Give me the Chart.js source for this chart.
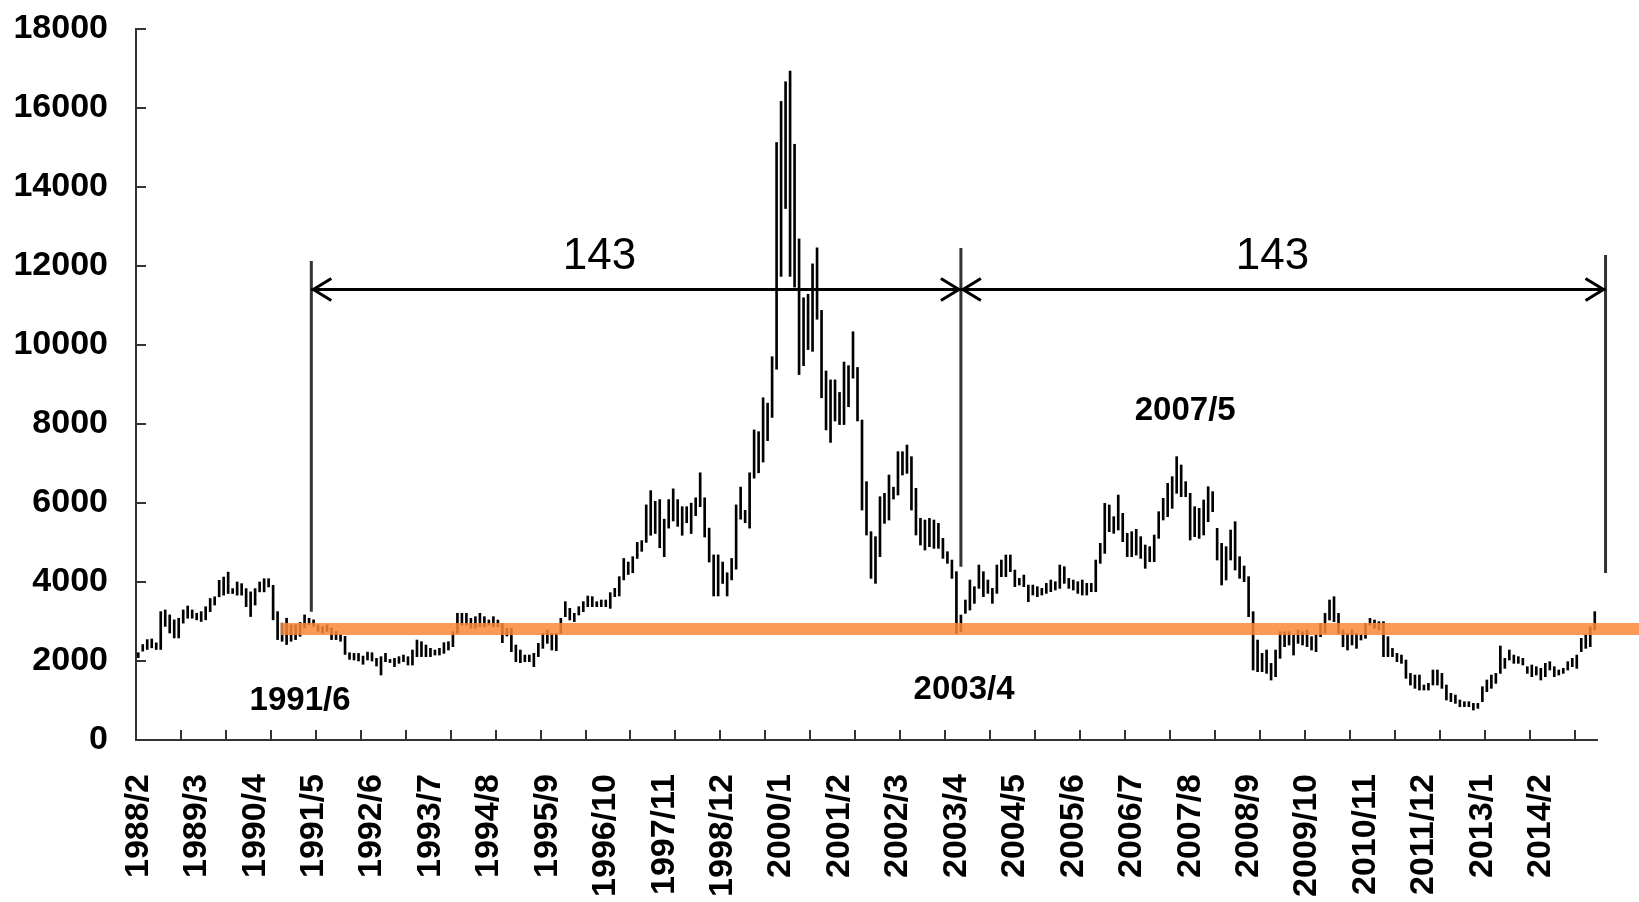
<!DOCTYPE html>
<html>
<head>
<meta charset="utf-8">
<script src="https://cdn.jsdelivr.net/npm/chart.js@4/dist/chart.umd.min.js"></script>
<style>
  html, body { margin: 0; padding: 0; background: #fff; overflow: hidden; }
  canvas { display: block; }
</style>
</head>
<body>
<canvas id="chart" width="1639" height="902"></canvas>
<script>
// monthly high / low, starting 1988/2
var highs = [
  2210, 2417, 2542, 2558, 2459, 3250, 3292, 3167, 3042, 3083,
  3292, 3392, 3292, 3208, 3250, 3375, 3583, 3625, 4042, 4125,
  4250, 3833, 4000, 3958, 3833, 3750, 3833, 4000, 4083, 4083,
  3917, 3250, 2959, 3083, 2917, 2917, 2975, 3167, 3083, 3042,
  2917, 2875, 2917, 2834, 2750, 2667, 2625, 2209, 2192, 2192,
  2125, 2225, 2209, 2067, 2109, 2194, 2040, 2067, 2109, 2151,
  2109, 2278, 2531, 2489, 2405, 2320, 2278, 2320, 2464, 2489,
  2742, 3207, 3207, 3207, 3080, 3122, 3207, 3122, 3038, 3122,
  3038, 2953, 2827, 2827, 2405, 2278, 2151, 2151, 2194, 2447,
  2700, 2785, 2700, 2700, 3080, 3502, 3333, 3207, 3376, 3502,
  3646, 3629, 3502, 3544, 3544, 3730, 3840, 4135, 4596, 4505,
  4641, 5003, 5048, 5952, 6313, 6042, 6087, 5590, 6087, 6358,
  6087, 5906, 5906, 5997, 6132, 6765, 6132, 5364, 4686, 4686,
  4505, 4234, 4596, 5952, 6403, 5816, 6765, 7850, 7805, 8664,
  8528, 9703, 15127, 16167, 16664, 16935, 15082, 12686, 11195, 11285,
  12054, 12460, 10878, 9342, 9116, 9116, 8799, 9568, 9477, 10336,
  9432, 8101, 6540, 5274, 5147, 6160, 6244, 6709, 6400, 7299,
  7299, 7468, 7173, 6371, 5611, 5569, 5611, 5569, 5485, 5105,
  4767, 4556, 4261, 3164, 3544, 4050, 3881, 4430, 4261, 4050,
  3839, 4430, 4556, 4683, 4683, 4303, 4092, 4176, 3923, 3923,
  3881, 3839, 3965, 4050, 4008, 4430, 4388, 4092, 4050, 4008,
  4050, 3965, 3965, 4556, 4978, 5991, 5949, 5654, 6202, 5738,
  5232, 5274, 5333, 5148, 4936, 4894, 5190, 5780, 6118, 6498,
  6667, 7173, 6962, 6540, 6245, 5907, 5865, 6076, 6413, 6287,
  5359, 4979, 4894, 5316, 5527, 4641, 4405, 4135, 3248, 2531,
  2193, 2278, 1940, 2278, 2742, 2742, 2742, 2658, 2784, 2742,
  2784, 2616, 2658, 2953, 3206, 3544, 3628, 3206, 2784, 2700,
  2785, 2700, 2658, 2953, 3080, 3038, 2996, 2996, 2616, 2320,
  2194, 2151, 2025, 1687, 1645, 1645, 1392, 1434, 1772, 1772,
  1687, 1392, 1181, 1139, 1012, 970, 970, 928, 928, 1350,
  1519, 1645, 1687, 2380, 2067, 2278, 2151, 2110, 2067, 1856,
  1899, 1856, 1814, 1941, 1983, 1856, 1772, 1814, 1983, 2067,
  2151, 2574, 2658, 2869, 3249
];
var lows = [
  2085, 2250, 2292, 2334, 2292, 2292, 2875, 2709, 2584, 2584,
  2959, 3083, 3083, 3042, 3000, 3042, 3250, 3417, 3625, 3667,
  3708, 3708, 3667, 3667, 3375, 3125, 3417, 3750, 3750, 3875,
  3042, 2542, 2500, 2417, 2500, 2542, 2625, 2834, 2917, 2875,
  2750, 2709, 2750, 2542, 2542, 2500, 2167, 2042, 2025, 2000,
  1917, 2025, 2000, 1873, 1645, 1983, 1960, 1856, 1941, 1983,
  1898, 1898, 2109, 2109, 2109, 2109, 2151, 2151, 2194, 2278,
  2363, 2700, 2911, 2911, 2827, 2827, 2869, 2869, 2911, 2869,
  2869, 2464, 2633, 2236, 1983, 1957, 1983, 1983, 1856, 2109,
  2320, 2447, 2278, 2261, 2700, 3122, 3038, 2996, 3164, 3249,
  3376, 3376, 3376, 3376, 3376, 3333, 3629, 3646, 4053, 4189,
  4234, 4596, 4776, 5003, 5183, 5228, 4867, 4641, 5364, 5545,
  5409, 5183, 5500, 5228, 5680, 5906, 5138, 4505, 3646, 3646,
  3963, 3646, 4053, 4324, 5590, 5500, 5364, 6629, 6765, 7037,
  7579, 8166, 9387, 11737, 13455, 11737, 11466, 9251, 9477, 9884,
  9839, 10652, 8664, 7850, 7534, 8076, 7986, 7986, 8437, 9161,
  8076, 5822, 5189, 4092, 3965, 4641, 5485, 5569, 6100, 6202,
  6709, 6751, 5822, 5189, 4936, 4809, 4894, 4852, 4852, 4598,
  4472, 4092, 2700, 2742, 3206, 3290, 3459, 3839, 3628, 3712,
  3459, 3712, 4134, 4134, 4261, 3881, 3923, 3881, 3501, 3670,
  3628, 3670, 3712, 3754, 3797, 3839, 3965, 3839, 3797, 3712,
  3670, 3670, 3754, 3754, 4472, 4725, 5274, 5232, 5316, 5021,
  4641, 4641, 4683, 4599, 4346, 4515, 4515, 5105, 5570, 5654,
  5865, 6245, 6160, 6160, 5063, 5148, 5105, 5190, 5528, 5781,
  4557, 3924, 4050, 4557, 4304, 4093, 4008, 3122, 1772, 1730,
  1730, 1687, 1518, 1603, 2067, 2362, 2405, 2151, 2447, 2405,
  2362, 2278, 2236, 2616, 2700, 3037, 2995, 2700, 2362, 2278,
  2405, 2320, 2531, 2574, 2911, 2827, 2785, 2110, 2110, 2110,
  1983, 1941, 1561, 1392, 1308, 1265, 1265, 1265, 1392, 1392,
  1308, 1012, 970, 928, 843, 843, 843, 759, 801, 970,
  1223, 1308, 1434, 1687, 1814, 2025, 1941, 1941, 1899, 1687,
  1603, 1645, 1519, 1603, 1772, 1603, 1645, 1687, 1772, 1856,
  1814, 2236, 2320, 2363, 2785
];

var startYear = 1988;
var startMonth = 2;
var labelEvery = 13;
var tickEvery = 10;

var months = [];
for (let i = 0; i < highs.length; i++) {
  let m = startMonth - 1 + i;
  months.push((startYear + Math.floor(m / 12)) + '/' + (m % 12 + 1));
}

// annotations, in category units and price units
var levelValue = 2810;
var levelFrom = 31.7;
var markerAt = [38.5, 183, 326.4];
var markerTop = [12127, 12456, 12278];
var markerBottom = [3250, 4388, 4228];
var arrowValue = 11405;
var spanText = ['143', '143'];
var spanTextAt = [102.6, 252.3];
var spanTextValue = 12228;
var dateNotes = ['1991/6', '2003/4', '2007/5'];
var dateNoteAt = [36.0, 183.7, 232.9];
var dateNoteValue = [987, 1266, 8329];

const FONT = "'Liberation Sans', 'DejaVu Sans', sans-serif";
Chart.defaults.font.family = FONT;
Chart.defaults.color = '#000';

function drawArrow(ctx, x1, x2, y) {
  ctx.beginPath();
  ctx.moveTo(x1, y);
  ctx.lineTo(x2, y);
  ctx.stroke();
  ctx.beginPath();
  ctx.moveTo(x1 + 20, y - 11);
  ctx.lineTo(x1 + 2, y);
  ctx.lineTo(x1 + 20, y + 11);
  ctx.moveTo(x2 - 20, y - 11);
  ctx.lineTo(x2 - 2, y);
  ctx.lineTo(x2 - 20, y + 11);
  ctx.stroke();
}

const overlay = {
  id: 'overlay',
  afterDatasetsDraw(chart) {
    const ctx = chart.ctx;
    const x = chart.scales.x;
    const y = chart.scales.y;
    ctx.save();

    // orange level line
    let ly = y.getPixelForValue(levelValue);
    ctx.strokeStyle = 'rgba(250,136,56,0.85)';
    ctx.lineWidth = 12;
    ctx.beginPath();
    ctx.moveTo(x.getPixelForValue(levelFrom), ly);
    ctx.lineTo(chart.width, ly);
    ctx.stroke();

    // vertical markers
    ctx.strokeStyle = '#333';
    ctx.lineWidth = 3;
    for (let i = 0; i < markerAt.length; i++) {
      let px = x.getPixelForValue(markerAt[i]);
      ctx.beginPath();
      ctx.moveTo(px, y.getPixelForValue(markerTop[i]));
      ctx.lineTo(px, y.getPixelForValue(markerBottom[i]));
      ctx.stroke();
    }

    // arrows between markers
    ctx.strokeStyle = '#000';
    ctx.lineWidth = 3;
    let ay = y.getPixelForValue(arrowValue);
    for (let i = 0; i < markerAt.length - 1; i++) {
      drawArrow(ctx, x.getPixelForValue(markerAt[i]), x.getPixelForValue(markerAt[i + 1]), ay);
    }

    ctx.fillStyle = '#000';
    ctx.textAlign = 'center';
    ctx.textBaseline = 'middle';
    ctx.font = '44px ' + FONT;
    for (let i = 0; i < spanText.length; i++) {
      ctx.fillText(spanText[i], x.getPixelForValue(spanTextAt[i]), y.getPixelForValue(spanTextValue));
    }
    ctx.font = 'bold 33px ' + FONT;
    for (let i = 0; i < dateNotes.length; i++) {
      ctx.fillText(dateNotes[i], x.getPixelForValue(dateNoteAt[i]), y.getPixelForValue(dateNoteValue[i]));
    }
    ctx.restore();
  }
};

new Chart(document.getElementById('chart'), {
  type: 'bar',
  data: {
    labels: months,
    datasets: [{
      data: lows.map((l, i) => [l, highs[i]]),
      backgroundColor: '#000',
      borderWidth: 0,
      barThickness: 2
    }]
  },
  plugins: [overlay],
  options: {
    responsive: false,
    animation: false,
    events: [],
    layout: { padding: { top: 29, right: 42, left: 0, bottom: 0 } },
    plugins: { legend: { display: false }, tooltip: { enabled: false } },
    scales: {
      x: {
        offset: true,
        grid: {
          offset: true,
          drawOnChartArea: false,
          tickLength: -10,
          lineWidth: 2,
          color: (c) => (c.index % tickEvery === 0 ? '#333' : 'rgba(0,0,0,0)')
        },
        border: { color: '#333', width: 2 },
        ticks: {
          autoSkip: false,
          minRotation: 90,
          maxRotation: 90,
          padding: 44,
          font: { size: 34, weight: 'bold' },
          color: '#000',
          callback: (v, i) => (i % labelEvery === 0 ? months[i] : '')
        },
        afterFit: (s) => { s.height = 162; s.paddingLeft = 0; s.paddingRight = 0; }
      },
      y: {
        min: 0,
        max: 18000,
        grid: { drawOnChartArea: false, tickLength: -10, lineWidth: 2, color: '#333' },
        border: { color: '#333', width: 2 },
        ticks: {
          stepSize: 2000,
          padding: 38,
          font: { size: 34, weight: 'bold' },
          color: '#000',
          callback: (v) => String(v)
        },
        afterFit: (s) => { s.width = 136; s.paddingTop = 0; s.paddingBottom = 0; }
      }
    }
  }
});
</script>
</body>
</html>
